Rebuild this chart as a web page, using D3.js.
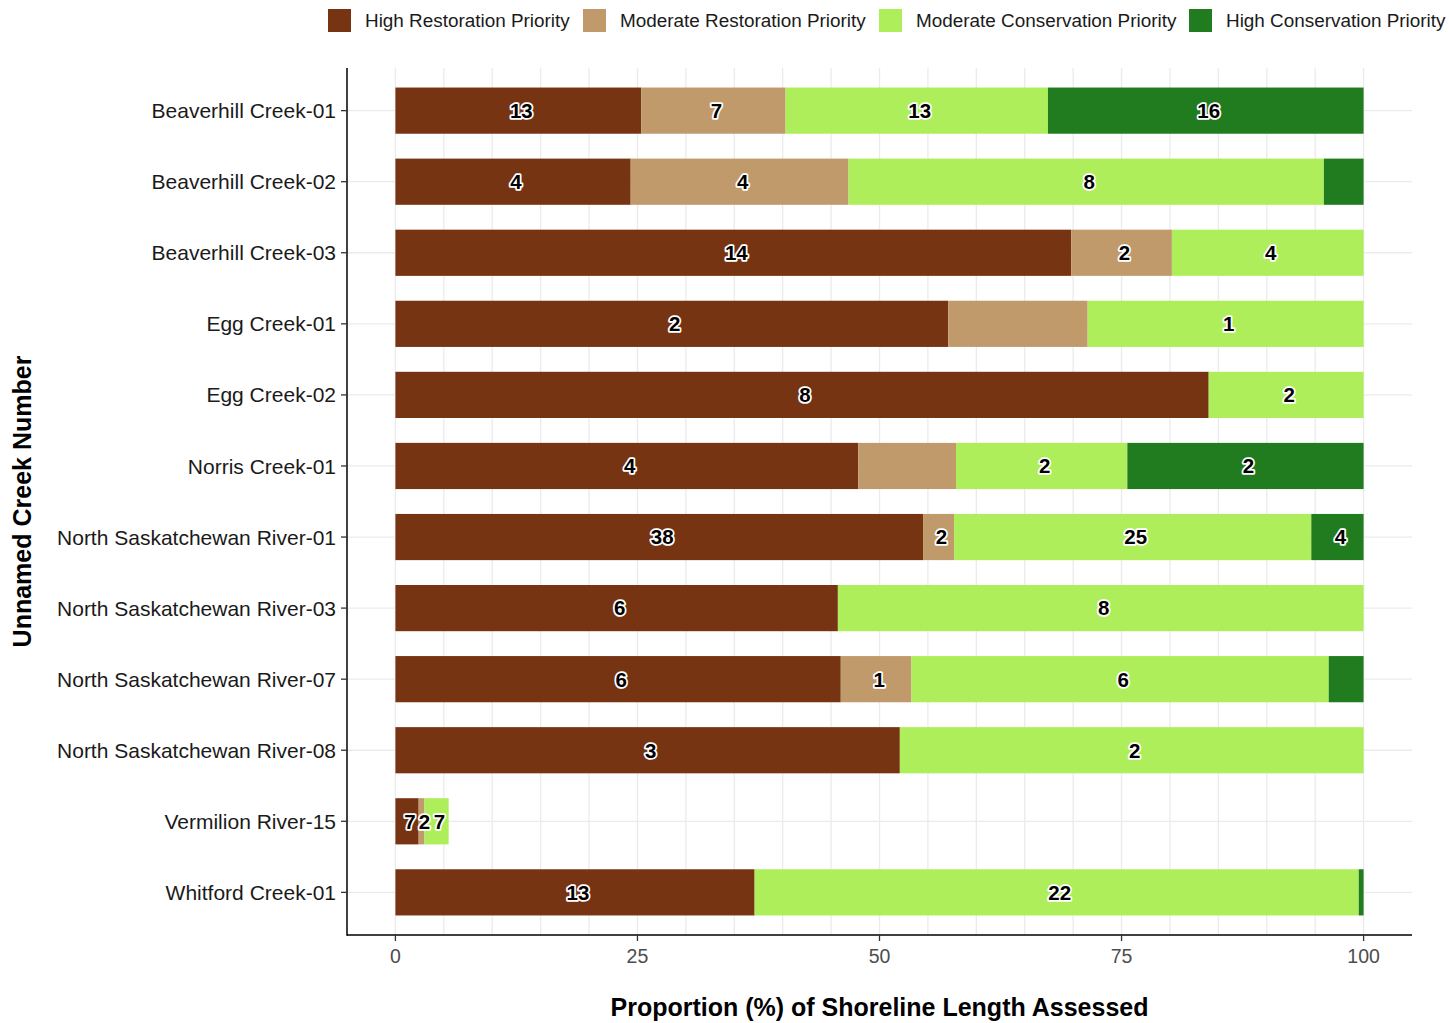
<!DOCTYPE html>
<html>
<head>
<meta charset="utf-8">
<script src="https://cdn.jsdelivr.net/npm/d3@7"></script>
<style>
  body { margin: 0; background: #fff; overflow: hidden; }
  svg { font-family: "Liberation Sans", Arial, sans-serif; display: block; }
  .bar-label { font-weight: bold; font-size: 20.5px; fill: #000; stroke: #fff; stroke-width: 3.5px; paint-order: stroke; stroke-linejoin: round; }
</style>
</head>
<body>
<div id="root"></div>
<script>
const creeks = ["Beaverhill Creek-01", "Beaverhill Creek-02", "Beaverhill Creek-03", "Egg Creek-01", "Egg Creek-02",
  "Norris Creek-01", "North Saskatchewan River-01", "North Saskatchewan River-03", "North Saskatchewan River-07",
  "North Saskatchewan River-08", "Vermilion River-15", "Whitford Creek-01"];

const categories = ["High Restoration Priority", "Moderate Restoration Priority", "Moderate Conservation Priority", "High Conservation Priority"];
const keys = ["highRest", "modRest", "modCons", "highCons"];

// proportion (%) of shoreline length
const highRest = [25.4, 24.3, 69.8, 57.1, 84.0, 47.8, 54.5, 45.7, 46.0, 52.1, 2.4, 37.1];
const modRest  = [14.9, 22.5, 10.4, 14.4, 0, 10.1, 3.2, 0, 7.3, 0, 0.6, 0];
const modCons  = [27.1, 49.1, 19.8, 28.5, 16.0, 17.7, 36.9, 54.3, 43.1, 47.9, 2.5, 62.4];
const highCons = [32.6, 4.1, 0, 0, 0, 24.4, 5.4, 0, 3.6, 0, 0, 0.5];

// labels shown on the segments
const highRestN = [13, 4, 14, 2, 8, 4, 38, 6, 6, 3, 7, 13];
const modRestN  = [7, 4, 2, null, null, null, 2, null, 1, null, 2, null];
const modConsN  = [13, 8, 4, 1, 2, 2, 25, 8, 6, 2, 7, 22];
const highConsN = [16, null, null, null, null, 2, 4, null, null, null, null, null];

const xTicks = [0, 25, 50, 75, 100];

const palette = ["#773413", "#c19a6b", "#aeee5a", "#217b1f"];

const width = 1449, height = 1023,
    margin = {top: 68, right: 37, bottom: 88, left: 347};

const rows = creeks.map((c, i) => ({
    creek: c,
    highRest: highRest[i], modRest: modRest[i], modCons: modCons[i], highCons: highCons[i],
    n: {highRest: highRestN[i], modRest: modRestN[i], modCons: modConsN[i], highCons: highConsN[i]}
}));

const svg = d3.select("#root").append("svg")
    .attr("width", width)
    .attr("height", height);

const x = d3.scaleLinear().domain([-5, 105]).range([margin.left, width - margin.right]);

// discrete scale with ggplot style expansion of 0.6 units
const step = (height - margin.bottom - margin.top) / (creeks.length + 0.2);
const y = d3.scalePoint().domain(creeks)
    .range([margin.top + 0.6 * step, height - margin.bottom - 0.6 * step]);
const barH = step * 0.65;

// grid
const grid = svg.append("g");
grid.selectAll(".vg")
    .data(d3.range(0, 101, 5))
    .enter().append("line")
    .attr("x1", d => x(d)).attr("x2", d => x(d))
    .attr("y1", margin.top).attr("y2", height - margin.bottom)
    .attr("stroke", "#ebebeb").attr("stroke-width", 1.3);
grid.selectAll(".hg")
    .data(creeks)
    .enter().append("line")
    .attr("x1", margin.left).attr("x2", width - margin.right)
    .attr("y1", d => y(d)).attr("y2", d => y(d))
    .attr("stroke", "#ebebeb").attr("stroke-width", 1.3);

const stack = d3.stack().keys(keys)(rows);

const layer = svg.selectAll(".layer")
    .data(stack)
    .enter().append("g")
    .attr("fill", (d, i) => palette[i]);

layer.selectAll("rect")
    .data(d => d)
    .enter().append("rect")
    .attr("x", d => x(d[0]))
    .attr("y", d => y(d.data.creek) - barH / 2)
    .attr("width", d => x(d[1]) - x(d[0]))
    .attr("height", barH);

// labels
stack.forEach(s => {
    svg.append("g").selectAll("text")
        .data(s.filter(d => d.data.n[s.key] != null))
        .enter().append("text")
        .attr("class", "bar-label")
        .attr("x", d => x((d[0] + d[1]) / 2) + 3)
        .attr("y", d => y(d.data.creek))
        .attr("dy", "0.36em")
        .attr("text-anchor", "middle")
        .text(d => d.data.n[s.key]);
});

// axes
const axisColor = "#000";
svg.append("line")
    .attr("x1", margin.left).attr("x2", margin.left)
    .attr("y1", margin.top).attr("y2", height - margin.bottom + 0.75)
    .attr("stroke", axisColor).attr("stroke-width", 1.5);
svg.append("line")
    .attr("x1", margin.left).attr("x2", width - margin.right)
    .attr("y1", height - margin.bottom).attr("y2", height - margin.bottom)
    .attr("stroke", axisColor).attr("stroke-width", 1.5);

const yAx = svg.append("g");
yAx.selectAll("line").data(creeks).enter().append("line")
    .attr("x1", margin.left - 6).attr("x2", margin.left)
    .attr("y1", d => y(d)).attr("y2", d => y(d))
    .attr("stroke", "#333").attr("stroke-width", 1.3);
yAx.selectAll("text").data(creeks).enter().append("text")
    .attr("x", margin.left - 11)
    .attr("y", d => y(d))
    .attr("dy", "0.36em")
    .attr("text-anchor", "end")
    .attr("font-size", "21px")
    .attr("fill", "#1a1a1a")
    .text(d => d);

const xAx = svg.append("g");
xAx.selectAll("line").data(xTicks).enter().append("line")
    .attr("x1", d => x(d)).attr("x2", d => x(d))
    .attr("y1", height - margin.bottom).attr("y2", height - margin.bottom + 6)
    .attr("stroke", "#333").attr("stroke-width", 1.3);
xAx.selectAll("text").data(xTicks).enter().append("text")
    .attr("x", d => x(d))
    .attr("y", height - margin.bottom + 21)
    .attr("dy", "0.36em")
    .attr("text-anchor", "middle")
    .attr("font-size", "19.5px")
    .attr("fill", "#4d4d4d")
    .text(d => d);

svg.append("text")
    .attr("x", (margin.left + width - margin.right) / 2)
    .attr("y", 1007)
    .attr("dy", "0.36em")
    .attr("text-anchor", "middle")
    .attr("font-size", "25px")
    .attr("font-weight", "bold")
    .text("Proportion (%) of Shoreline Length Assessed");

svg.append("text")
    .attr("transform", "translate(22," + ((margin.top + height - margin.bottom) / 2) + ") rotate(-90)")
    .attr("dy", "0.36em")
    .attr("text-anchor", "middle")
    .attr("font-size", "25px")
    .attr("font-weight", "bold")
    .text("Unnamed Creek Number");

// legend
const legX = [328, 583, 879, 1189];
const leg = svg.append("g").selectAll("g")
    .data(categories)
    .enter().append("g");
leg.append("rect")
    .attr("x", (d, i) => legX[i])
    .attr("y", 9)
    .attr("width", 23).attr("height", 23)
    .attr("fill", (d, i) => palette[i]);
leg.append("text")
    .attr("x", (d, i) => legX[i] + 37)
    .attr("y", 20.5)
    .attr("dy", "0.36em")
    .attr("font-size", "18.9px")
    .attr("fill", "#1a1a1a")
    .text(d => d);
</script>
</body>
</html>
